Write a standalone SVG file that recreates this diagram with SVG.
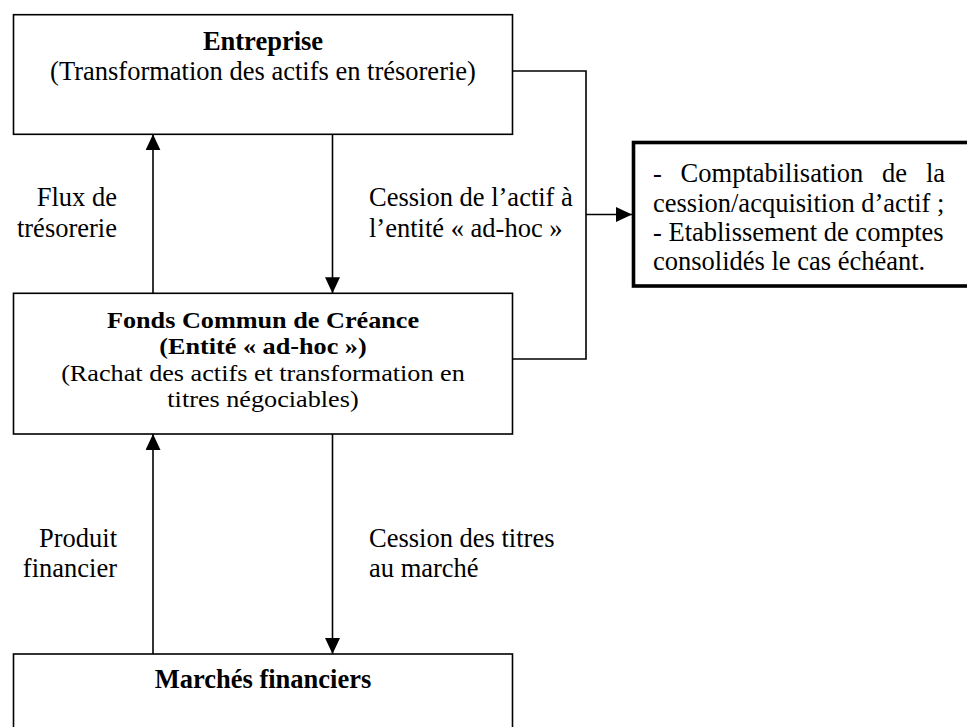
<svg xmlns="http://www.w3.org/2000/svg" width="967" height="727" viewBox="0 0 967 727">
<style>
  .box { fill: #ffffff; stroke: #000000; stroke-width: 1.6; }
  .thick { fill: #ffffff; stroke: #000000; stroke-width: 3.6; }
  .t { font-family: "Liberation Serif", "Times New Roman", serif; font-size: 26.5px; fill: #000000; }
  .s { font-size: 26.2px; }
  .b { font-weight: bold; }
  .c { text-anchor: middle; }
  .e { text-anchor: end; }
  .ln { fill: none; stroke: #000000; stroke-width: 1.6; }
</style>
<defs>
  <marker id="ah" markerUnits="userSpaceOnUse" markerWidth="16" markerHeight="15" refX="16" refY="7.5" orient="auto">
    <path d="M0,0 L16,7.5 L0,15 Z" fill="#000000"/>
  </marker>
</defs>
<rect width="967" height="727" fill="#ffffff"/>

<g id="entreprise">
  <rect class="box" x="13.5" y="14.7" width="499" height="119.6"/>
  <text class="t b c" x="263" y="49.5">Entreprise</text>
  <text class="t c" x="263" y="80">(Transformation des actifs en trésorerie)</text>
</g>

<g id="fonds">
  <rect class="box" x="13.5" y="293.3" width="499" height="140.7"/>
  <g transform="translate(0,327.5) scale(1,0.89)">
    <text class="t s b c" x="263" y="0">Fonds Commun de Créance</text>
    <text class="t s b c" x="263" y="29.8">(Entité « ad-hoc »)</text>
    <text class="t s c" x="263" y="59.6">(Rachat des actifs et transformation en</text>
    <text class="t s c" x="263" y="89.4">titres négociables)</text>
  </g>
</g>

<g id="marches">
  <rect class="box" x="13.5" y="654" width="499" height="90"/>
  <text class="t b c" x="263" y="688">Marchés financiers</text>
</g>

<g id="comptabilisation">
  <rect class="thick" x="633.5" y="142.5" width="350" height="143.5"/>
  <text class="t" y="182"><tspan x="653">-</tspan><tspan x="680.6">Comptabilisation</tspan><tspan x="882">de</tspan><tspan x="925.9">la</tspan></text>
  <text class="t" x="653" y="211.5">cession/acquisition d’actif ;</text>
  <text class="t" x="653" y="241">- Etablissement de comptes</text>
  <text class="t" x="653" y="270">consolidés le cas échéant.</text>
</g>

<g id="connectors">
  <line class="ln" x1="153" y1="293.3" x2="153" y2="134.3" marker-end="url(#ah)"/>
  <line class="ln" x1="332.5" y1="134.3" x2="332.5" y2="293.3" marker-end="url(#ah)"/>
  <line class="ln" x1="153" y1="654" x2="153" y2="434" marker-end="url(#ah)"/>
  <line class="ln" x1="332.5" y1="434" x2="332.5" y2="654" marker-end="url(#ah)"/>
  <polyline class="ln" points="512.5,71 586,71 586,359 512.5,359"/>
  <line class="ln" x1="586" y1="214.5" x2="632" y2="214.5" marker-end="url(#ah)"/>
</g>

<g id="labels">
  <text class="t e" x="117" y="206">Flux de</text>
  <text class="t e" x="117" y="236.5">trésorerie</text>
  <text class="t" x="369" y="206">Cession de l’actif à</text>
  <text class="t" x="369" y="236.5">l’entité « ad-hoc »</text>
  <text class="t e" x="117" y="547">Produit</text>
  <text class="t e" x="117" y="577">financier</text>
  <text class="t" x="369" y="547">Cession des titres</text>
  <text class="t" x="369" y="577">au marché</text>
</g>
</svg>
